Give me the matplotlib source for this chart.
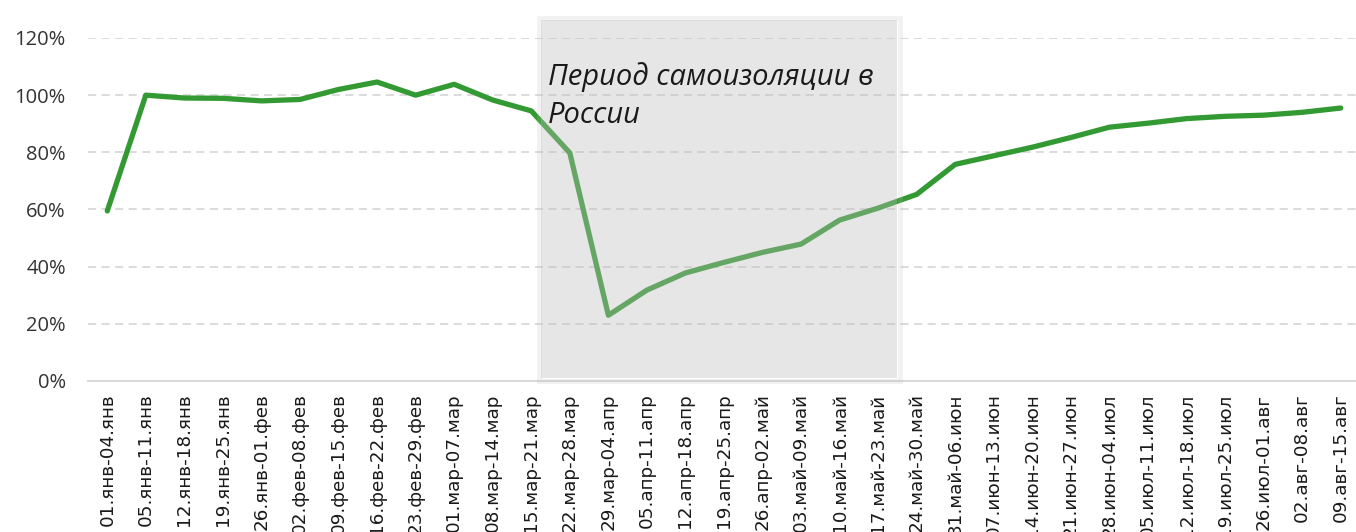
import matplotlib
matplotlib.use("Agg")
import matplotlib.pyplot as plt
from matplotlib.patches import Rectangle
from matplotlib.ticker import FuncFormatter

weeks = ["01.янв-04.янв", "05.янв-11.янв", "12.янв-18.янв", "19.янв-25.янв",
         "26.янв-01.фев", "02.фев-08.фев", "09.фев-15.фев", "16.фев-22.фев",
         "23.фев-29.фев", "01.мар-07.мар", "08.мар-14.мар", "15.мар-21.мар",
         "22.мар-28.мар", "29.мар-04.апр", "05.апр-11.апр", "12.апр-18.апр",
         "19.апр-25.апр", "26.апр-02.май", "03.май-09.май", "10.май-16.май",
         "17.май-23.май", "24.май-30.май", "31.май-06.июн", "07.июн-13.июн",
         "14.июн-20.июн", "21.июн-27.июн", "28.июн-04.июл", "05.июл-11.июл",
         "12.июл-18.июл", "19.июл-25.июл", "26.июл-01.авг", "02.авг-08.авг",
         "09.авг-15.авг"]
values = [59.5, 100, 99, 98.9, 98, 98.5, 102, 104.6, 100, 103.8, 98.3, 94.5,
          79.8, 23, 31.8, 37.8, 41.5, 45, 47.9, 56.3, 60.5, 65.3, 75.8, 78.8,
          81.8, 85.2, 88.8, 90.2, 91.8, 92.6, 93, 94, 95.5]
y_ticks = [0, 20, 40, 60, 80, 100, 120]
note = "Период самоизоляции в\nРоссии"

W, H = 1356, 532
fig = plt.figure(figsize=(W / 100, H / 100), dpi=100)
ax = fig.add_axes([88 / W, 1 - 381 / H, 1272 / W, 343 / H])

x = list(range(len(weeks)))
ax.plot(x, [v / 100 for v in values], color="#339a33", lw=3.8,
        solid_capstyle="round", solid_joinstyle="round", zorder=3)

ax.set_xlim(-0.5, len(weeks) - 0.5)
ax.set_ylim(0, 1.2)
ax.set_yticks([t / 100 for t in y_ticks])
ax.yaxis.set_major_formatter(FuncFormatter(lambda v, p: f"{v * 100:.0f}%"))
ax.grid(axis="y", color="#d9d9d9", lw=1.3, ls=(0, (4.5, 3)))
ax.set_axisbelow(True)

for s in ["top", "right", "left"]:
    ax.spines[s].set_visible(False)
ax.spines["bottom"].set_color("#d9d9d9")
ax.spines["bottom"].set_linewidth(1.5)

ax.set_xticks(x)
ax.set_xticklabels(weeks, rotation=90, fontsize=13.2, family="DejaVu Sans",
                   color="#1a1a1a", va="top")
ax.tick_params(axis="x", length=0, pad=9)
ax.tick_params(axis="y", length=0, pad=16, labelsize=14.5, labelcolor="#333333")
for lab in ax.get_yticklabels():
    lab.set_family("Open Sans")

# shaded lockdown period (semi-transparent, on top of the line)
gray = (188 / 255, 188 / 255, 188 / 255)
fig.add_artist(Rectangle((538.5 / W, 1 - 380.5 / H), 361 / W, 363 / H,
                         transform=fig.transFigure, fill=False,
                         edgecolor=gray, alpha=0.19, lw=3.6, zorder=5))
fig.add_artist(Rectangle((541 / W, 1 - 378 / H), 356 / W, 358 / H,
                         transform=fig.transFigure, facecolor=gray,
                         edgecolor="none", alpha=0.373, zorder=5))
fig.text(548 / W, 1 - 62 / H, note, fontsize=21, style="italic",
         family="Open Sans", color="#1a1a1a", va="top", ha="left",
         linespacing=1.4, zorder=6)

fig.savefig("out.png", dpi=100)
